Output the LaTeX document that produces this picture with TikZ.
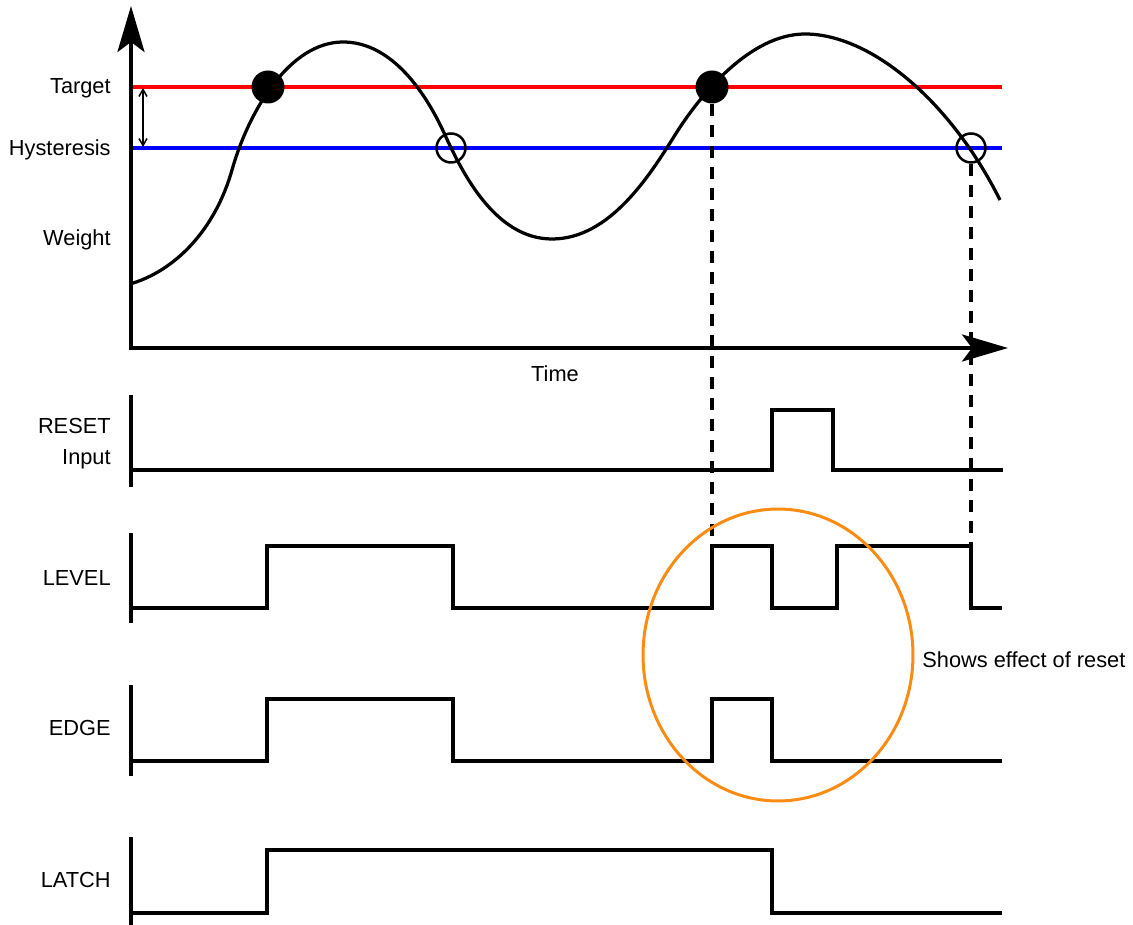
\documentclass[tikz,border=0pt]{standalone}
\usepackage{fontspec}
\setmainfont{Liberation Sans}
\usetikzlibrary{arrows.meta}
\definecolor{ornc}{RGB}{250,140,20}
\begin{document}
\begin{tikzpicture}[x=0.02cm,y=-0.02cm,
  lbl/.style={anchor=base east, inner sep=0pt, font=\fontsize{12.4}{14}\selectfont},
  txt/.style={inner sep=0pt, font=\fontsize{12.4}{14}\selectfont},
  axisline/.style={line width=0.08cm},
  sig/.style={line width=0.066cm, line join=miter},
  bigtip/.tip={Stealth[length=0.92cm,width=0.54cm,inset=0.2cm]},
  dashv/.style={line width=0.07cm, dash pattern=on 0.24cm off 0.18cm},
  dot/.style={circle, fill=black, inner sep=0pt, minimum size=0.66cm},
  ring/.style={circle, draw=black, line width=0.05cm, inner sep=0pt, minimum size=0.58cm},
]
\useasboundingbox (0,0) rectangle (1133,925);

% main axes
\coordinate (ytop) at (131,6);
\coordinate (orig) at (131,348);
\coordinate (xend) at (1008,348);
\draw[axisline, bigtip-bigtip] (ytop) -- (orig) -- (xend);

% target and hysteresis lines
\draw[red, line width=0.07cm] (133,87) -- (1002,87);
\draw[blue, line width=0.07cm] (133,148) -- (1002,148);
\coordinate (hA) at (143,88);
\coordinate (hB) at (143,147);
\draw[line width=0.03cm, {Straight Barb[length=0.14cm,width=0.16cm]}-{Straight Barb[length=0.14cm,width=0.16cm]}] (hA) -- (hB);

% weight curve
\draw[line width=0.065cm]
  (130,284) .. controls (175,271) and (215,230) .. (232,170)
            .. controls (249,110) and (290,42) .. (343,42)
            .. controls (392,42) and (426,93) .. (445,135)
            .. controls (462,172) and (495,239) .. (552,239)
            .. controls (610,239) and (650,175) .. (675,135)
            .. controls (700,95) and (750,34) .. (805,34)
            .. controls (870,34) and (950,100) .. (1000,200);

% markers
\node[dot] (p1) at (268,87) {};
\node[dot] (p2) at (712,87) {};
\node[ring] (q1) at (451,148) {};
\node[ring] (q2) at (971,148) {};

% labels
\node[lbl] (tTarget) at (111,94) {Target};
\node[lbl] (tHyst) at (111,156) {Hysteresis};
\node[lbl] (tWeight) at (111,246) {Weight};
\node[txt, anchor=base] (tTime) at (555,382) {Time};
\node[lbl] (tReset) at (111,434) {RESET};
\node[lbl] (tInput) at (111,465) {Input};
\node[lbl] (tLevel) at (111,586) {LEVEL};
\node[lbl] (tEdge) at (111,735) {EDGE};
\node[lbl] (tLatch) at (111,887) {LATCH};
\node[txt, anchor=base west] (tShows) at (922,667) {Shows effect of reset};

% RESET
\draw[axisline] (131,395) -- (131,487);
\draw[sig] (131,470) -- (772,470) -- (772,410) -- (833,410) -- (833,470) -- (1003,470);

% LEVEL
\coordinate (lv1) at (712,546);
\coordinate (lv3) at (971,546);
\draw[axisline] (131,533) -- (131,623);
\draw[sig] (131,608) -- (267,608) -- (267,546) -- (453,546) -- (453,608) -- (712,608) -- (lv1)
  -- (772,546) -- (772,608) -- (837,608) -- (837,546) -- (lv3) -- (971,608) -- (1002,608);

% EDGE
\draw[axisline] (131,685) -- (131,776);
\draw[sig] (131,761) -- (267,761) -- (267,699) -- (453,699) -- (453,761) -- (712,761) -- (712,699)
  -- (772,699) -- (772,761) -- (1002,761);

% LATCH
\draw[axisline] (131,837) -- (131,925);
\draw[sig] (131,913) -- (267,913) -- (267,850) -- (772,850) -- (772,913) -- (1002,913);

% dashed projections
\draw[dashv] (p2.south) -- (lv1);
\draw[dashv] (q2.south) -- (lv3);

% orange highlight
\draw[ornc, line width=0.06cm] (778,655) ellipse [x radius=2.7cm, y radius=2.92cm];
\end{tikzpicture}
\end{document}
